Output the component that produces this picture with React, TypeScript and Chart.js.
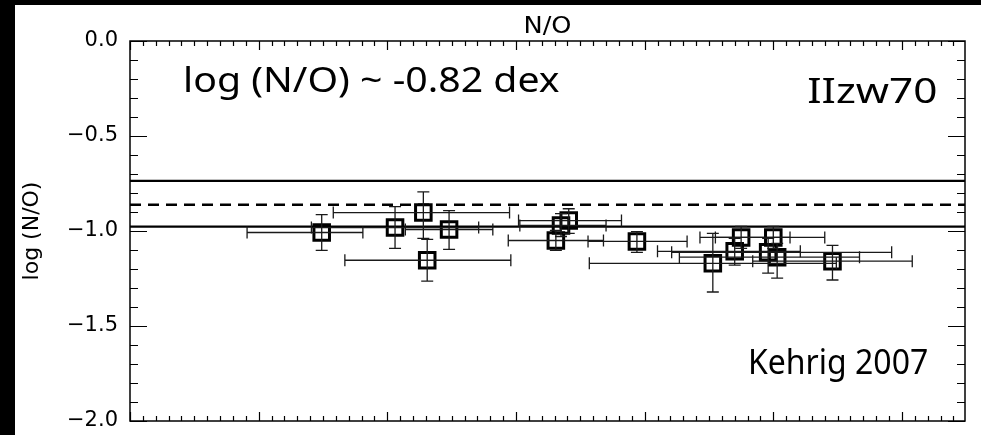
import React, { useEffect, useRef } from "react";
import { Chart, registerables } from "chart.js";

Chart.register(...registerables);

// ---- axis ranges / ticks ----
const X_MIN = 0;
const X_MAX = 6.49;
const Y_MIN = -2;
const Y_MAX = 0;
const Y_STEP = 0.5;

// ---- measurements (log N/O) with error bars ----
const pointX = [1.49, 2.06, 2.28, 2.48, 2.31, 3.31, 3.35, 3.41, 3.94, 4.53, 4.75, 4.7, 5.0, 4.96, 5.03, 5.46];
const pointY = [-1.008, -0.982, -0.903, -0.992, -1.154, -1.05, -0.971, -0.945, -1.055, -1.17, -1.034, -1.107, -1.034, -1.112, -1.138, -1.159];
const xLow = [0.91, 1.41, 1.58, 2.14, 1.67, 2.94, 3.03, 3.02, 3.56, 3.57, 4.43, 4.1, 4.55, 4.21, 4.27, 4.84];
const xHigh = [1.81, 2.71, 2.95, 2.82, 2.96, 3.68, 3.7, 3.82, 4.33, 5.49, 5.13, 5.21, 5.4, 5.92, 5.67, 6.08];
const yLow = [-1.102, -1.091, -1.039, -1.097, -1.264, -1.102, -1.029, -1.013, -1.112, -1.321, -1.091, -1.18, -1.091, -1.222, -1.248, -1.258];
const yHigh = [-0.914, -0.872, -0.794, -0.893, -1.044, -0.997, -0.909, -0.883, -1.003, -1.013, -0.976, -1.039, -0.976, -1.039, -1.065, -1.076];

// ---- reference levels ----
const upperLevel = -0.736;
const meanLevel = -0.862;
const lowerLevel = -0.977;

// ---- texts ----
const titleText = "N/O";
const yTitle = "log (N/O)";
const noteMain = "log (N/O) ~ -0.82 dex";
const noteObject = "IIzw70";
const noteRef = "Kehrig 2007";

const FONT = "'DejaVu Sans', sans-serif";
const NOTE_FONT = "'Noto Sans', sans-serif";

const errorBarPlugin = {
  id: "errorBars",
  afterDatasetsDraw(chart: any) {
    const { ctx, scales } = chart;
    const xs = scales.x;
    const ys = scales.y;
    ctx.save();
    ctx.strokeStyle = "#1a1a1a";
    ctx.lineWidth = 1.3;
    const cap = 6;
    for (let i = 0; i < pointX.length; i++) {
      const px = xs.getPixelForValue(pointX[i]);
      const py = ys.getPixelForValue(pointY[i]);
      const x0 = xs.getPixelForValue(xLow[i]);
      const x1 = xs.getPixelForValue(xHigh[i]);
      const y0 = ys.getPixelForValue(yLow[i]);
      const y1 = ys.getPixelForValue(yHigh[i]);
      ctx.beginPath();
      ctx.moveTo(x0, py);
      ctx.lineTo(x1, py);
      ctx.moveTo(x0, py - cap);
      ctx.lineTo(x0, py + cap);
      ctx.moveTo(x1, py - cap);
      ctx.lineTo(x1, py + cap);
      ctx.moveTo(px, y0);
      ctx.lineTo(px, y1);
      ctx.moveTo(px - cap, y0);
      ctx.lineTo(px + cap, y0);
      ctx.moveTo(px - cap, y1);
      ctx.lineTo(px + cap, y1);
      ctx.stroke();
    }
    ctx.restore();
  },
};

const framePlugin = {
  id: "frameTicks",
  afterDraw(chart: any) {
    const { ctx, chartArea: a, scales } = chart;
    const xs = scales.x;
    const ys = scales.y;
    ctx.save();
    ctx.strokeStyle = "#000";
    ctx.lineWidth = 1.5;
    ctx.strokeRect(a.left, a.top, a.right - a.left, a.bottom - a.top);
    ctx.lineWidth = 1.2;
    ctx.beginPath();
    for (let i = 0; i * 0.1 <= X_MAX + 1e-9; i++) {
      const v = i * 0.1;
      const px = Math.round(xs.getPixelForValue(v)) + 0.5;
      const len = i % 10 === 0 ? 9 : 5;
      ctx.moveTo(px, a.bottom);
      ctx.lineTo(px, a.bottom - len);
      ctx.moveTo(px, a.top);
      ctx.lineTo(px, a.top + len);
    }
    for (let i = 0; i <= 20; i++) {
      const v = -i * 0.1;
      const py = Math.round(ys.getPixelForValue(v)) + 0.5;
      const len = i % 5 === 0 ? 17 : 8;
      ctx.moveTo(a.left, py);
      ctx.lineTo(a.left + len, py);
      ctx.moveTo(a.right, py);
      ctx.lineTo(a.right - len, py);
    }
    ctx.stroke();

    ctx.fillStyle = "#000";
    ctx.textBaseline = "alphabetic";
    ctx.textAlign = "left";
    const w = a.right - a.left;
    const h = a.bottom - a.top;
    // text scaled horizontally to its measured width in the reference
    const drawFitted = (text: string, font: string, left: number, base: number, width: number) => {
      ctx.font = font;
      const mw = ctx.measureText(text).width;
      const s = width / mw;
      ctx.save();
      ctx.translate(left, base);
      ctx.scale(s, 1);
      ctx.fillText(text, 0, 0);
      ctx.restore();
    };
    // title
    drawFitted(titleText, `23px ${FONT}`, (a.left + a.right) / 2 - 24, a.top - 8, 48);
    // notes
    const nf = `35px ${NOTE_FONT}`;
    drawFitted(noteMain, nf, a.left + w * 0.0635, a.top + h * 0.133, w * 0.451);
    drawFitted(noteObject, nf, a.left + w * 0.811, a.top + h * 0.162, w * 0.156);
    drawFitted(noteRef, nf, a.left + w * 0.74, a.top + h * 0.875, w * 0.216);
    ctx.restore();
  },
};

export default function App() {
  const canvasRef = useRef<HTMLCanvasElement | null>(null);

  useEffect(() => {
    document.body.style.margin = "0";
    const canvas = canvasRef.current;
    if (!canvas) return;
    const levelLine = (v: number, dash: number[]) => ({
      type: "line" as const,
      data: [
        { x: X_MIN, y: v },
        { x: X_MAX, y: v },
      ],
      borderColor: "#000",
      borderWidth: 2.4,
      borderDash: dash,
      pointRadius: 0,
      fill: false,
    });
    const chart = new Chart(canvas, {
      type: "scatter",
      data: {
        datasets: [
          levelLine(upperLevel, []),
          levelLine(meanLevel, [11, 7]),
          levelLine(lowerLevel, []),
          {
            type: "scatter",
            data: pointX.map((x, i) => ({ x, y: pointY[i] })),
            pointStyle: "rect",
            pointRadius: 11,
            borderColor: "#000",
            borderWidth: 3,
            backgroundColor: "rgba(0,0,0,0)",
          } as any,
        ],
      },
      options: {
        animation: false,
        responsive: true,
        maintainAspectRatio: false,
        layout: { padding: { left: 0, top: 36, right: 16, bottom: 0 } },
        plugins: {
          legend: { display: false },
          tooltip: { enabled: false },
          title: { display: false },
        },
        scales: {
          x: {
            type: "linear",
            min: X_MIN,
            max: X_MAX,
            grid: { display: false, drawTicks: false },
            border: { display: false },
            ticks: { display: false },
            afterFit: (s: any) => {
              s.height = 11;
              s.paddingLeft = 0;
              s.paddingRight = 0;
            },
          },
          y: {
            type: "linear",
            min: Y_MIN,
            max: Y_MAX,
            grid: { display: false, drawTicks: false },
            border: { display: false },
            ticks: {
              stepSize: Y_STEP,
              padding: 12,
              color: "#000",
              font: { family: FONT, size: 21 },
              callback: (v: any) => {
                const n = Number(v);
                const s = Math.abs(n).toFixed(1);
                return n < 0 ? "\u2212" + s : s;
              },
            },
            title: {
              display: true,
              text: yTitle,
              color: "#000",
              font: { family: FONT, size: 22 },
              padding: { top: 4, bottom: 0 },
            },
            afterFit: (s: any) => {
              s.width = 115;
              s.paddingTop = 0;
              s.paddingBottom = 0;
            },
          },
        },
      },
      plugins: [errorBarPlugin, framePlugin],
    } as any);
    return () => chart.destroy();
  }, []);

  return (
    <div
      style={{
        position: "fixed",
        left: 0,
        top: 0,
        width: 981,
        height: 435,
        background: "#000",
      }}
    >
      <div
        style={{
          position: "absolute",
          left: 15,
          top: 5,
          width: 966,
          height: 430,
          background: "#fff",
        }}
      >
        <canvas ref={canvasRef} />
      </div>
    </div>
  );
}
